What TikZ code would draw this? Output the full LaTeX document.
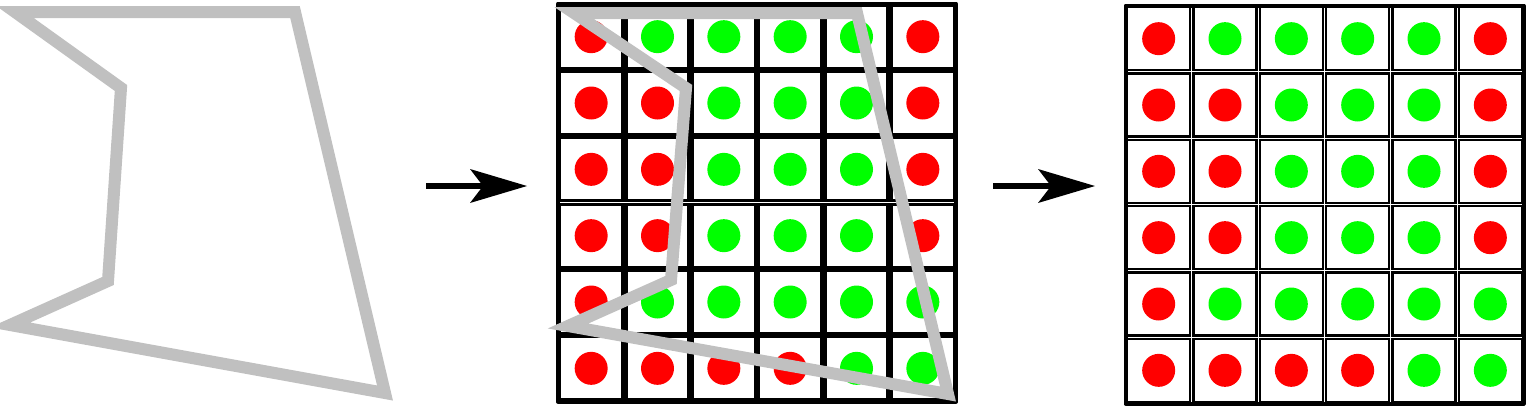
\documentclass[tikz,border=0pt]{standalone}
\usetikzlibrary{arrows.meta}
\definecolor{polygray}{RGB}{192,192,192}
\tikzset{
  gridframe/.style={draw=black, line width=4pt, line join=round},
  dot/.style={radius=16.5pt},
  polyline/.style={draw=polygray, line width=12pt, line join=miter, miter limit=20},
  panelarrow/.style={draw=black, line width=6.5pt,
    -{Stealth[length=57pt, width=34pt, inset=13pt, line width=0pt]}},
  colorgrid/.pic={
    \foreach \row [count=\r from 0] in {
      {red,green,green,green,green,red},
      {red,red,green,green,green,red},
      {red,red,green,green,green,red},
      {red,red,green,green,green,red},
      {red,green,green,green,green,green},
      {red,red,red,red,green,green}}{
      \foreach \col [count=\c from 0] in \row {
        \draw[draw=black, line width=#1] (\c*66.333+1.65, \r*66.333+1.65) rectangle (\c*66.333+64.683, \r*66.333+64.683);
        \fill[\col] (\c*66.333+33.167, \r*66.333+33.167) circle[dot];
      }
    }
    \draw[gridframe] (0,0) rectangle (398,398);
  }
}
\begin{document}
\begin{tikzpicture}[x=1pt, y=-1pt]
\useasboundingbox (0,0) rectangle (1526,408);
\fill[white] (0,0) rectangle (1526,408);

% left polygon
\coordinate (lA) at (15,12);
\coordinate (lB) at (295,12);
\coordinate (lC) at (385,393);
\coordinate (lD) at (10,325);
\coordinate (lE) at (108,281);
\coordinate (lF) at (121,88);
\draw[polyline] (lA) -- (lB) -- (lC) -- (lD) -- (lE) -- (lF) -- cycle;

% arrow 1
\coordinate (a1s) at (426,186);
\coordinate (a1e) at (527,186);
\draw[panelarrow] (a1s) -- (a1e);

% middle grid with polygon overlay
\pic at (558,3.5) {colorgrid=3.1pt};
\coordinate (mA) at (574,13);
\coordinate (mB) at (857,13);
\coordinate (mC) at (948,394);
\coordinate (mD) at (568,326);
\coordinate (mE) at (671,280);
\coordinate (mF) at (686,88);
\draw[polyline] (mA) -- (mB) -- (mC) -- (mD) -- (mE) -- (mF) -- cycle;

% arrow 2
\coordinate (a2s) at (993,186);
\coordinate (a2e) at (1095,186);
\draw[panelarrow] (a2s) -- (a2e);

% right grid
\pic at (1125.5,5.5) {colorgrid=2.6pt};
\end{tikzpicture}
\end{document}
